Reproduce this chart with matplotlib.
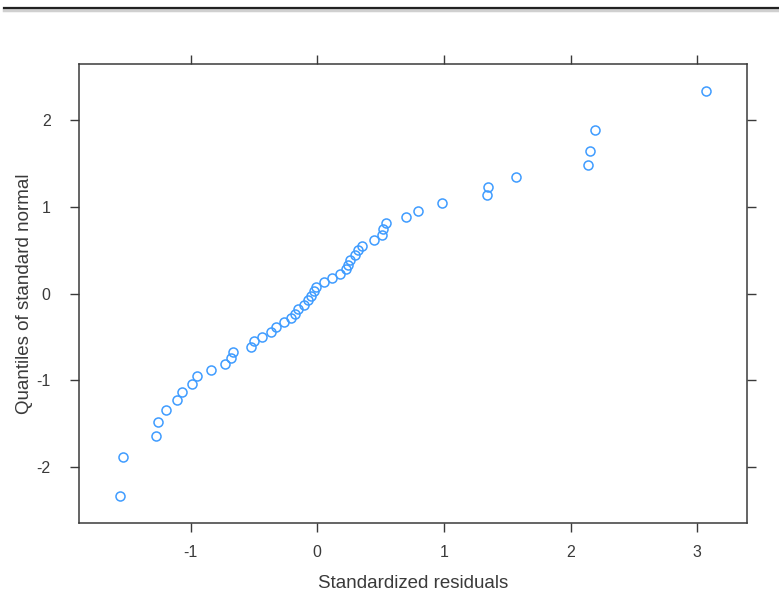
import matplotlib
matplotlib.use("Agg")
import matplotlib.pyplot as plt
from matplotlib.lines import Line2D

# standardized residuals (sorted) against normal quantiles
resid = [-1.557, -1.534, -1.273, -1.258, -1.194, -1.108, -1.068, -0.989, -0.949, -0.839,
         -0.728, -0.681, -0.665, -0.523, -0.500, -0.437, -0.365, -0.326, -0.263, -0.207,
         -0.176, -0.152, -0.105, -0.073, -0.050, -0.026, -0.010, 0.053, 0.116, 0.179,
         0.226, 0.242, 0.258, 0.298, 0.321, 0.353, 0.448, 0.511, 0.519, 0.542,
         0.700, 0.795, 0.984, 1.340, 1.348, 1.569, 2.137, 2.153, 2.192, 3.068]
qnorm = [-2.33, -1.88, -1.64, -1.48, -1.34, -1.23, -1.13, -1.04, -0.95, -0.88,
         -0.81, -0.74, -0.67, -0.61, -0.55, -0.50, -0.44, -0.39, -0.33, -0.28,
         -0.23, -0.18, -0.13, -0.08, -0.03, 0.03, 0.08, 0.13, 0.18, 0.23,
         0.28, 0.33, 0.39, 0.44, 0.50, 0.55, 0.61, 0.67, 0.74, 0.81,
         0.88, 0.95, 1.04, 1.13, 1.23, 1.34, 1.48, 1.64, 1.88, 2.33]
xticks = [-1, 0, 1, 2, 3]
yticks = [-2, -1, 0, 1, 2]

plt.rcParams['font.family'] = ['Liberation Sans', 'DejaVu Sans']
fg = '#3a3a3a'

fig = plt.figure(figsize=(7.79, 6.02), dpi=100)
ax = fig.add_axes([0.1014, 0.1312, 0.8575, 0.7625])

ax.plot(resid, qnorm, linestyle='none', marker='o', markersize=6.5,
        markerfacecolor='none', markeredgecolor='#3f9cff', markeredgewidth=1.1)

ax.set_xlim(-1.881, 3.392)
ax.set_ylim(-2.64, 2.64)
ax.set_xticks(xticks)
ax.set_yticks(yticks)
ax.set_xticklabels([str(t) for t in xticks])
ax.set_yticklabels([str(t) for t in yticks])
ax.tick_params(direction='out', length=6.5, width=1.0, color=fg, labelcolor=fg,
               labelsize=11.5, top=True, right=True, labeltop=False, labelright=False)
ax.tick_params(axis='x', pad=9)
ax.tick_params(axis='y', pad=14)
for s in ax.spines.values():
    s.set_color(fg)
    s.set_linewidth(1.1)

ax.set_xlabel('Standardized residuals', fontsize=13.5, color=fg, labelpad=11)
ax.set_ylabel('Quantiles of standard normal', fontsize=13.5, color=fg, labelpad=2)

# rule across the top of the page
fig.add_artist(Line2D([0.005, 1.0], [0.984, 0.984], color='#d0d0d0', linewidth=2.5))
fig.add_artist(Line2D([0.005, 1.0], [0.9865, 0.9865], color='#222222', linewidth=1.6))

fig.savefig('out.png', dpi=100)
